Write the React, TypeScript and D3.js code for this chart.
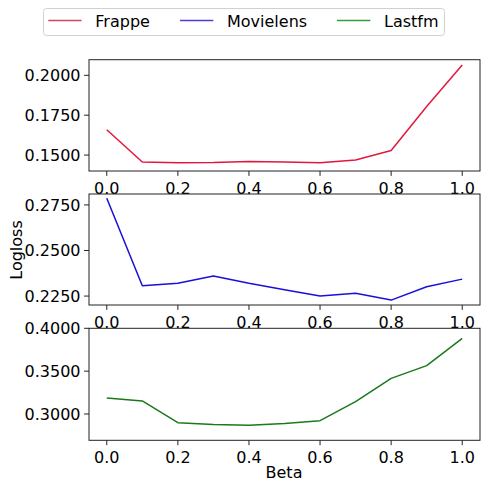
import React from "react";
import * as d3 from "d3";

const betas = [0.0, 0.1, 0.2, 0.3, 0.4, 0.5, 0.6, 0.7, 0.8, 0.9, 1.0];
const frappe = [0.1659, 0.1456, 0.1452, 0.1453, 0.146, 0.1457, 0.1452, 0.1469, 0.1529, 0.1805, 0.2065];
const movielens = [0.2787, 0.2307, 0.232, 0.236, 0.232, 0.2285, 0.225, 0.2266, 0.2228, 0.2301, 0.2343];
const lastfm = [0.3187, 0.3152, 0.2899, 0.2876, 0.2868, 0.289, 0.2922, 0.3144, 0.3416, 0.3564, 0.3882];
const xTicks = [0.0, 0.2, 0.4, 0.6, 0.8, 1.0];
const frappeTicks = [0.15, 0.175, 0.2];
const movielensTicks = [0.225, 0.25, 0.275];
const lastfmTicks = [0.3, 0.35, 0.4];
const seriesNames = ["Frappe", "Movielens", "Lastfm"];

const colors = ["#e3173e", "#1a10d8", "#1a7a1a"];
const legendColors = ["#cc4a64", "#4b3ee0", "#3a9a3a"];

const W = 486;
const H = 488;
const left = 89;
const right = 480;
const FONT = "DejaVu Sans, sans-serif";

const panels = [
  { values: frappe, ticks: frappeTicks, domain: [0.14, 0.2098], top: 59.7, bottom: 171 },
  { values: movielens, ticks: movielensTicks, domain: [0.2201, 0.281], top: 194, bottom: 305 },
  { values: lastfm, ticks: lastfmTicks, domain: [0.2693, 0.4], top: 328.3, bottom: 440.3 },
];

export default function App() {
  const x = d3.scaleLinear().domain([-0.05, 1.05]).range([left, right]);
  const fmt = d3.format(".4f");
  return (
    <svg width={W} height={H} style={{ position: "absolute", left: 0, top: 0, background: "#fff" }} fontFamily={FONT}>
      {/* legend */}
      <rect x={43.5} y={8.5} width={401} height={27} rx={3} fill="#fff" stroke="#d0d0d0" strokeWidth={1} />
      {seriesNames.map((n, i) => {
        const lx = [48.3, 180, 337][i];
        return (
          <g key={n}>
            <line x1={lx} x2={lx + 33.3} y1={20.5} y2={20.5} stroke={legendColors[i]} strokeWidth={1.5} />
            <text x={lx + 47} y={26.5} fontSize={16} fill="#000">{n}</text>
          </g>
        );
      })}
      {panels.map((p, i) => {
        const y = d3.scaleLinear().domain(p.domain).range([p.bottom, p.top]);
        const line = d3
          .line<number>()
          .x((_, j) => x(betas[j]))
          .y((v) => y(v));
        return (
          <g key={i}>
            <rect x={left} y={p.top} width={right - left} height={p.bottom - p.top} fill="#fff" />
            <path d={line(p.values) || ""} fill="none" stroke={colors[i]} strokeWidth={1.5} strokeLinejoin="round" />
            <rect x={left} y={p.top} width={right - left} height={p.bottom - p.top} fill="none" stroke="#222" strokeWidth={1} />
            {xTicks.map((t) => (
              <g key={t}>
                <line x1={x(t)} x2={x(t)} y1={p.bottom} y2={p.bottom + 4.9} stroke="#222" strokeWidth={1} />
                <text x={x(t)} y={p.bottom + 22.5} fontSize={16} textAnchor="middle" fill="#000">
                  {d3.format(".1f")(t)}
                </text>
              </g>
            ))}
            {p.ticks.map((t) => (
              <g key={t}>
                <line x1={left - 4.9} x2={left} y1={y(t)} y2={y(t)} stroke="#222" strokeWidth={1} />
                <text x={left - 8.5} y={y(t)} dy="0.36em" fontSize={16} textAnchor="end" fill="#000">
                  {fmt(t)}
                </text>
              </g>
            ))}
          </g>
        );
      })}
      <text transform="translate(22,250) rotate(-90)" fontSize={16} textAnchor="middle" fill="#000">
        Logloss
      </text>
      <text x={284} y={478} fontSize={16} textAnchor="middle" fill="#000">
        Beta
      </text>
    </svg>
  );
}
